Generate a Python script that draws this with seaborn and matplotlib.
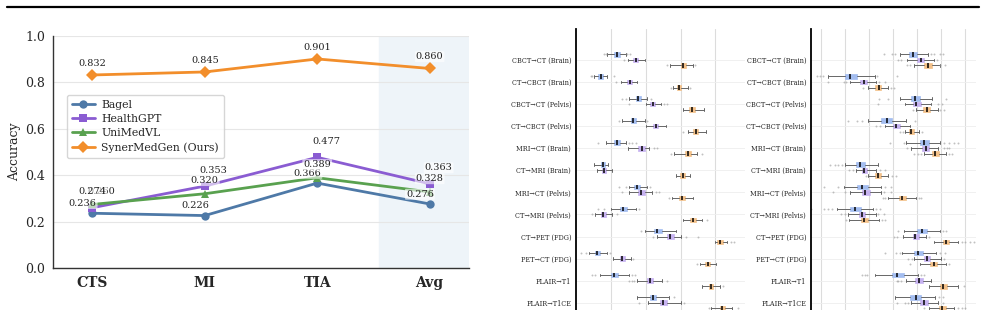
import matplotlib.pyplot as plt
import numpy as np
import pandas as pd
import seaborn as sns
from matplotlib.lines import Line2D

sns.set_theme(style="white")
plt.rcParams["font.family"] = ["DejaVu Serif"]

W, H = 985, 310

# left panel: accuracy per task
tasks = ["CTS", "MI", "TIA", "Avg"]
line_models = ["Bagel", "HealthGPT", "UniMedVL", "SynerMedGen (Ours)"]
bagel = [0.236, 0.226, 0.366, 0.276]
healthgpt = [0.260, 0.353, 0.477, 0.363]
unimedvl = [0.274, 0.320, 0.389, 0.328]
synermedgen = [0.832, 0.845, 0.901, 0.860]
line_colors = ["#4e79a7", "#8a5cd2", "#59a14f", "#f28e2b"]
line_markers = ["o", "s", "^", "D"]
label_offsets = [(-7, 7), (6.5, 11.5), (0, 9.5), (0, 8.5)]

# right panels: per-pair score distributions (whislo, q1, med, q3, whishi)
pairs = ["CBCT→CT (Brain)", "CT→CBCT (Brain)", "CBCT→CT (Pelvis)", "CT→CBCT (Pelvis)",
         "MRI→CT (Brain)", "CT→MRI (Brain)", "MRI→CT (Pelvis)", "CT→MRI (Pelvis)",
         "CT→PET (FDG)", "PET→CT (FDG)", "FLAIR→T1", "FLAIR→T1CE"]
box_models = ["Bagel", "HealthGPT", "SynerMedGen"]
box_colors = ["#a3bdf0", "#c6b2f0", "#f3c088"]

a_bagel = [(18.0, 21.8, 23.4, 25.1, 28.5), (10.3, 12.8, 14.2, 15.5, 18.0),
           (30.5, 34.3, 35.6, 37.2, 40.6), (26.6, 31.4, 32.8, 34.3, 39.5),
           (17.0, 21.8, 23.4, 25.3, 28.9), (10.3, 14.2, 15.5, 16.7, 18.6),
           (30.5, 33.3, 34.9, 36.6, 40.6), (19.9, 25.3, 27.2, 29.5, 34.3),
           (39.7, 44.8, 46.7, 49.4, 57.3), (7.5, 10.9, 12.3, 13.8, 17.6),
           (13.8, 19.9, 22.0, 24.3, 30.5), (35.2, 42.5, 44.3, 46.2, 53.4)]
a_bagel_fl = [[16.1, 17.0, 29.5, 31.0], [8.4, 9.4, 21.8], [26.2, 28.5, 43.3], [24.7, 41.0],
              [12.6, 30.5, 32.4, 34.3], [], [24.7, 28.5, 42.5], [12.6, 16.1, 36.2],
              [37.2], [2.7, 5.6, 19.5], [9.4, 10.7, 32.4, 33.7], [56.3]]
a_health = [(30.1, 33.0, 34.3, 35.6, 39.5), (25.7, 29.5, 30.8, 32.0, 35.2),
            (40.0, 42.5, 44.1, 45.6, 49.0), (40.0, 44.4, 46.0, 47.1, 51.5),
            (30.1, 35.8, 37.7, 39.5, 42.0), (12.3, 14.8, 16.1, 17.4, 20.9),
            (30.5, 35.6, 37.5, 39.5, 43.9), (10.7, 14.2, 15.7, 17.2, 20.9),
            (46.7, 52.1, 54.0, 56.3, 60.2), (21.3, 25.1, 26.6, 28.0, 31.8),
            (35.2, 40.6, 42.5, 44.4, 49.6), (41.4, 48.3, 50.2, 52.5, 60.2)]
a_health_fl = [[27.6], [22.8], [30.5, 50.6, 52.1], [], [44.8, 46.7], [],
               [26.6, 45.8, 47.7], [9.4, 23.4], [44.4, 63.0, 70.3], [33.0],
               [30.5, 32.0, 33.3, 52.5], [36.2, 62.1]]
a_syner = [(54.0, 60.2, 61.7, 63.2, 66.9), (55.4, 57.9, 59.2, 60.5, 64.0),
           (61.7, 65.1, 66.7, 68.2, 73.2), (64.4, 67.2, 68.6, 70.1, 74.5),
           (56.3, 62.6, 64.4, 65.9, 69.7), (57.3, 59.8, 61.3, 62.8, 65.5),
           (55.0, 59.2, 60.7, 62.5, 67.4), (61.5, 65.5, 67.0, 68.6, 72.6),
           (79.7, 81.2, 82.6, 84.1, 86.4), (71.3, 74.1, 75.5, 76.8, 80.3),
           (72.6, 76.1, 77.4, 78.9, 82.6), (77.4, 82.6, 83.9, 85.4, 89.8)]
a_syner_fl = [[52.5, 68.2], [54.4, 65.5], [], [61.5], [54.4, 72.6], [], [53.4], [75.1],
              [88.9, 90.4], [69.2], [84.1], [76.1, 92.7]]

b_bagel = [(42.8, 46.6, 48.3, 50.1, 54.8), (12.8, 20.0, 22.3, 25.2, 32.4),
           (42.8, 47.6, 49.0, 51.1, 56.2), (29.4, 35.2, 37.4, 39.6, 45.5),
           (45.5, 51.1, 52.9, 55.2, 59.8), (20.2, 24.8, 26.2, 28.3, 33.8),
           (19.7, 25.2, 27.3, 29.4, 35.2), (16.5, 22.0, 24.1, 26.5, 31.7),
           (44.6, 50.1, 52.0, 54.3, 59.4), (43.9, 48.6, 50.5, 52.7, 58.0),
           (32.4, 39.6, 41.8, 44.4, 50.4), (41.0, 47.3, 49.4, 51.8, 57.6)]
b_bagel_fl = [[36.3, 39.7, 41.0, 55.9, 57.0, 59.8, 60.8], [8.5, 9.6, 11.0, 33.5, 41.8],
              [34.1, 37.9, 61.9], [21.1, 25.2, 26.9, 49.0], [38.6, 44.6, 61.4, 63.5, 65.6, 67.3],
              [13.7, 15.8, 17.2, 18.6], [11.4, 17.2, 36.5, 39.0], [6.0, 11.4, 12.8, 14.4, 33.1, 34.5],
              [42.1, 60.8, 62.1], [36.5, 41.4, 42.8, 59.4, 61.7], [27.1, 28.3, 29.2, 51.8, 53.1],
              [59.0, 60.8]]
b_health = [(46.0, 50.1, 51.8, 53.1, 57.0), (22.0, 26.2, 27.8, 29.2, 33.1),
            (44.9, 48.3, 49.7, 51.8, 55.9), (36.8, 40.0, 41.4, 42.8, 46.9),
            (47.6, 52.0, 53.8, 55.2, 58.7), (24.8, 26.9, 27.8, 29.2, 33.1),
            (22.0, 26.9, 28.5, 30.3, 35.2), (21.3, 25.9, 27.1, 28.5, 32.8),
            (44.2, 48.3, 49.3, 50.7, 53.8), (48.7, 53.1, 54.3, 55.6, 60.1),
            (45.5, 49.3, 50.8, 52.5, 55.9), (47.6, 51.1, 52.9, 54.8, 58.7)]
b_health_fl = [[42.1, 43.5, 58.4], [12.8, 19.7, 20.6, 34.1, 36.8], [33.8, 58.7, 60.5],
               [32.8, 34.5], [46.0, 61.4, 62.6, 63.5], [21.6, 23.4, 34.5, 36.8],
               [15.1, 20.2, 36.3, 39.0], [18.2, 20.2, 33.8, 36.3], [40.4, 41.8, 55.2],
               [46.2, 47.9, 61.4], [41.8, 42.1, 43.5], [41.8, 44.9, 46.2, 60.8]]
b_syner = [(48.7, 53.1, 54.8, 56.2, 59.4), (29.4, 32.7, 34.1, 35.2, 37.9),
           (49.7, 52.5, 54.1, 55.6, 58.7), (45.1, 46.5, 47.6, 48.7, 50.7),
           (52.9, 56.2, 57.7, 59.0, 62.1), (29.6, 32.7, 33.8, 35.2, 37.9),
           (37.9, 42.4, 43.9, 45.3, 49.7), (21.6, 26.6, 28.0, 29.6, 34.2),
           (56.9, 60.8, 61.9, 63.5, 67.3), (51.1, 55.5, 56.9, 58.3, 62.1),
           (55.2, 59.4, 60.8, 62.6, 67.0), (55.2, 59.1, 60.3, 61.9, 65.6)]
b_syner_fl = [[46.0, 46.9, 59.8, 61.7], [27.6, 39.0, 40.4], [48.3, 59.4, 61.2],
              [42.8, 44.2, 52.2], [48.7, 50.4, 51.5, 63.5, 64.5], [28.9, 39.6, 41.4],
              [35.9, 36.8, 50.8, 51.8], [20.6, 35.4, 36.8], [68.6, 70.0, 72.2, 73.9],
              [47.3, 63.5], [69.7], [53.1, 67.3, 68.6, 70.0]]


def box_stats(rows, fliers):
    return [dict(whislo=r[0], q1=r[1], med=r[2], q3=r[3], whishi=r[4], fliers=f)
            for r, f in zip(rows, fliers)]


def draw_boxes(ax, series, xlim, grid_x):
    offsets = [-0.25, 0.0, 0.25]
    for (rows, fl), color, off in zip(series, box_colors, offsets):
        ax.bxp(box_stats(rows, fl), positions=np.arange(len(pairs)) + off,
               orientation="horizontal", widths=0.21, capwidths=0.12,
               patch_artist=True, manage_ticks=False,
               boxprops=dict(facecolor=color, edgecolor=color, lw=0.5),
               medianprops=dict(color="black", lw=1.1),
               whiskerprops=dict(color="#666666", lw=0.7),
               capprops=dict(color="#666666", lw=0.7),
               flierprops=dict(marker="o", markersize=1.4, markerfacecolor="#999999",
                               markeredgecolor="none", alpha=0.6))
    ax.set_xlim(*xlim)
    ax.set_ylim(11.6, -1.4)
    ax.set_yticks(np.arange(len(pairs)), pairs, fontsize=4.7)
    ax.set_xticks(grid_x)
    ax.tick_params(axis="x", length=0, labelbottom=False)
    ax.tick_params(axis="y", length=2, width=0.6, pad=1.5, color="black")
    ax.grid(axis="x", color="#dcdcdc", lw=0.8)
    ax.grid(axis="y", color="#eeeeee", lw=0.6)
    ax.set_axisbelow(True)
    for s in ["top", "right", "bottom"]:
        ax.spines[s].set_visible(False)
    ax.spines["left"].set_color("black")
    ax.spines["left"].set_linewidth(1.3)


fig = plt.figure(figsize=(W / 100, H / 100), dpi=100)
fig.add_artist(Line2D([7 / W, 979 / W], [1 - 7 / H, 1 - 7 / H], color="black", lw=1.6))

# accuracy line chart
ax = fig.add_axes([53 / W, 1 - 268 / H, 416 / W, 232 / H])
acc = pd.DataFrame({
    "pos": np.tile(np.arange(len(tasks)), len(line_models)),
    "acc": bagel + healthgpt + unimedvl + synermedgen,
    "model": np.repeat(line_models, len(tasks)),
})
ax.axvspan(2.55, 3.4, color="#eef4f9", zorder=0)
sns.lineplot(data=acc, x="pos", y="acc", hue="model", style="model",
             palette=dict(zip(line_models, line_colors)),
             markers=dict(zip(line_models, line_markers)), dashes=False,
             lw=2, markersize=6, markeredgewidth=0, sort=False, ax=ax)
for vals, color, off in zip([bagel, healthgpt, unimedvl, synermedgen], line_colors, label_offsets):
    for i, v in enumerate(vals):
        ax.annotate(f"{v:.3f}", (i, v), xytext=off, textcoords="offset points",
                    ha="center", va="center", fontsize=7, color="#222222",
                    bbox=dict(boxstyle="round,pad=0.1", fc="white", ec="none", alpha=0.6))
ax.set_xlim(-0.35, 3.35)
ax.set_ylim(0, 1.0)
ax.set_xticks(np.arange(len(tasks)), tasks, fontsize=10, fontweight="bold")
ax.set_yticks(np.arange(0, 1.01, 0.2))
ax.tick_params(axis="y", labelsize=9, length=3.5, width=0.8, color="#333333", pad=2)
ax.tick_params(axis="x", length=3.5, width=0.8, color="#333333", pad=2)
ax.set_xlabel("")
ax.set_ylabel("Accuracy", fontsize=9, labelpad=3)
ax.grid(axis="y", color="#e6e6e6", lw=0.8)
ax.set_axisbelow(True)
for s in ["top", "right"]:
    ax.spines[s].set_visible(False)
for s in ["left", "bottom"]:
    ax.spines[s].set_color("#333333")
    ax.spines[s].set_linewidth(1.0)
ax.legend(loc="upper left", bbox_to_anchor=(0.034, 0.745), borderaxespad=0,
          fontsize=7.8, frameon=True, edgecolor="#cccccc", handlelength=2.1,
          handletextpad=0.6, labelspacing=0.38, borderpad=0.45, title=None)

# score distributions
ax_a = fig.add_axes([576 / W, 1 - 316 / H, 169 / W, 287 / H])
draw_boxes(ax_a, [(a_bagel, a_bagel_fl), (a_health, a_health_fl), (a_syner, a_syner_fl)],
           (0, 97), [20, 40, 60, 80])
ax_b = fig.add_axes([811 / W, 1 - 316 / H, 165 / W, 287 / H])
draw_boxes(ax_b, [(b_bagel, b_bagel_fl), (b_health, b_health_fl), (b_syner, b_syner_fl)],
           (5.85, 74.6), [10, 20, 30, 40, 50, 60, 70])

fig.savefig("out.png", dpi=100)
